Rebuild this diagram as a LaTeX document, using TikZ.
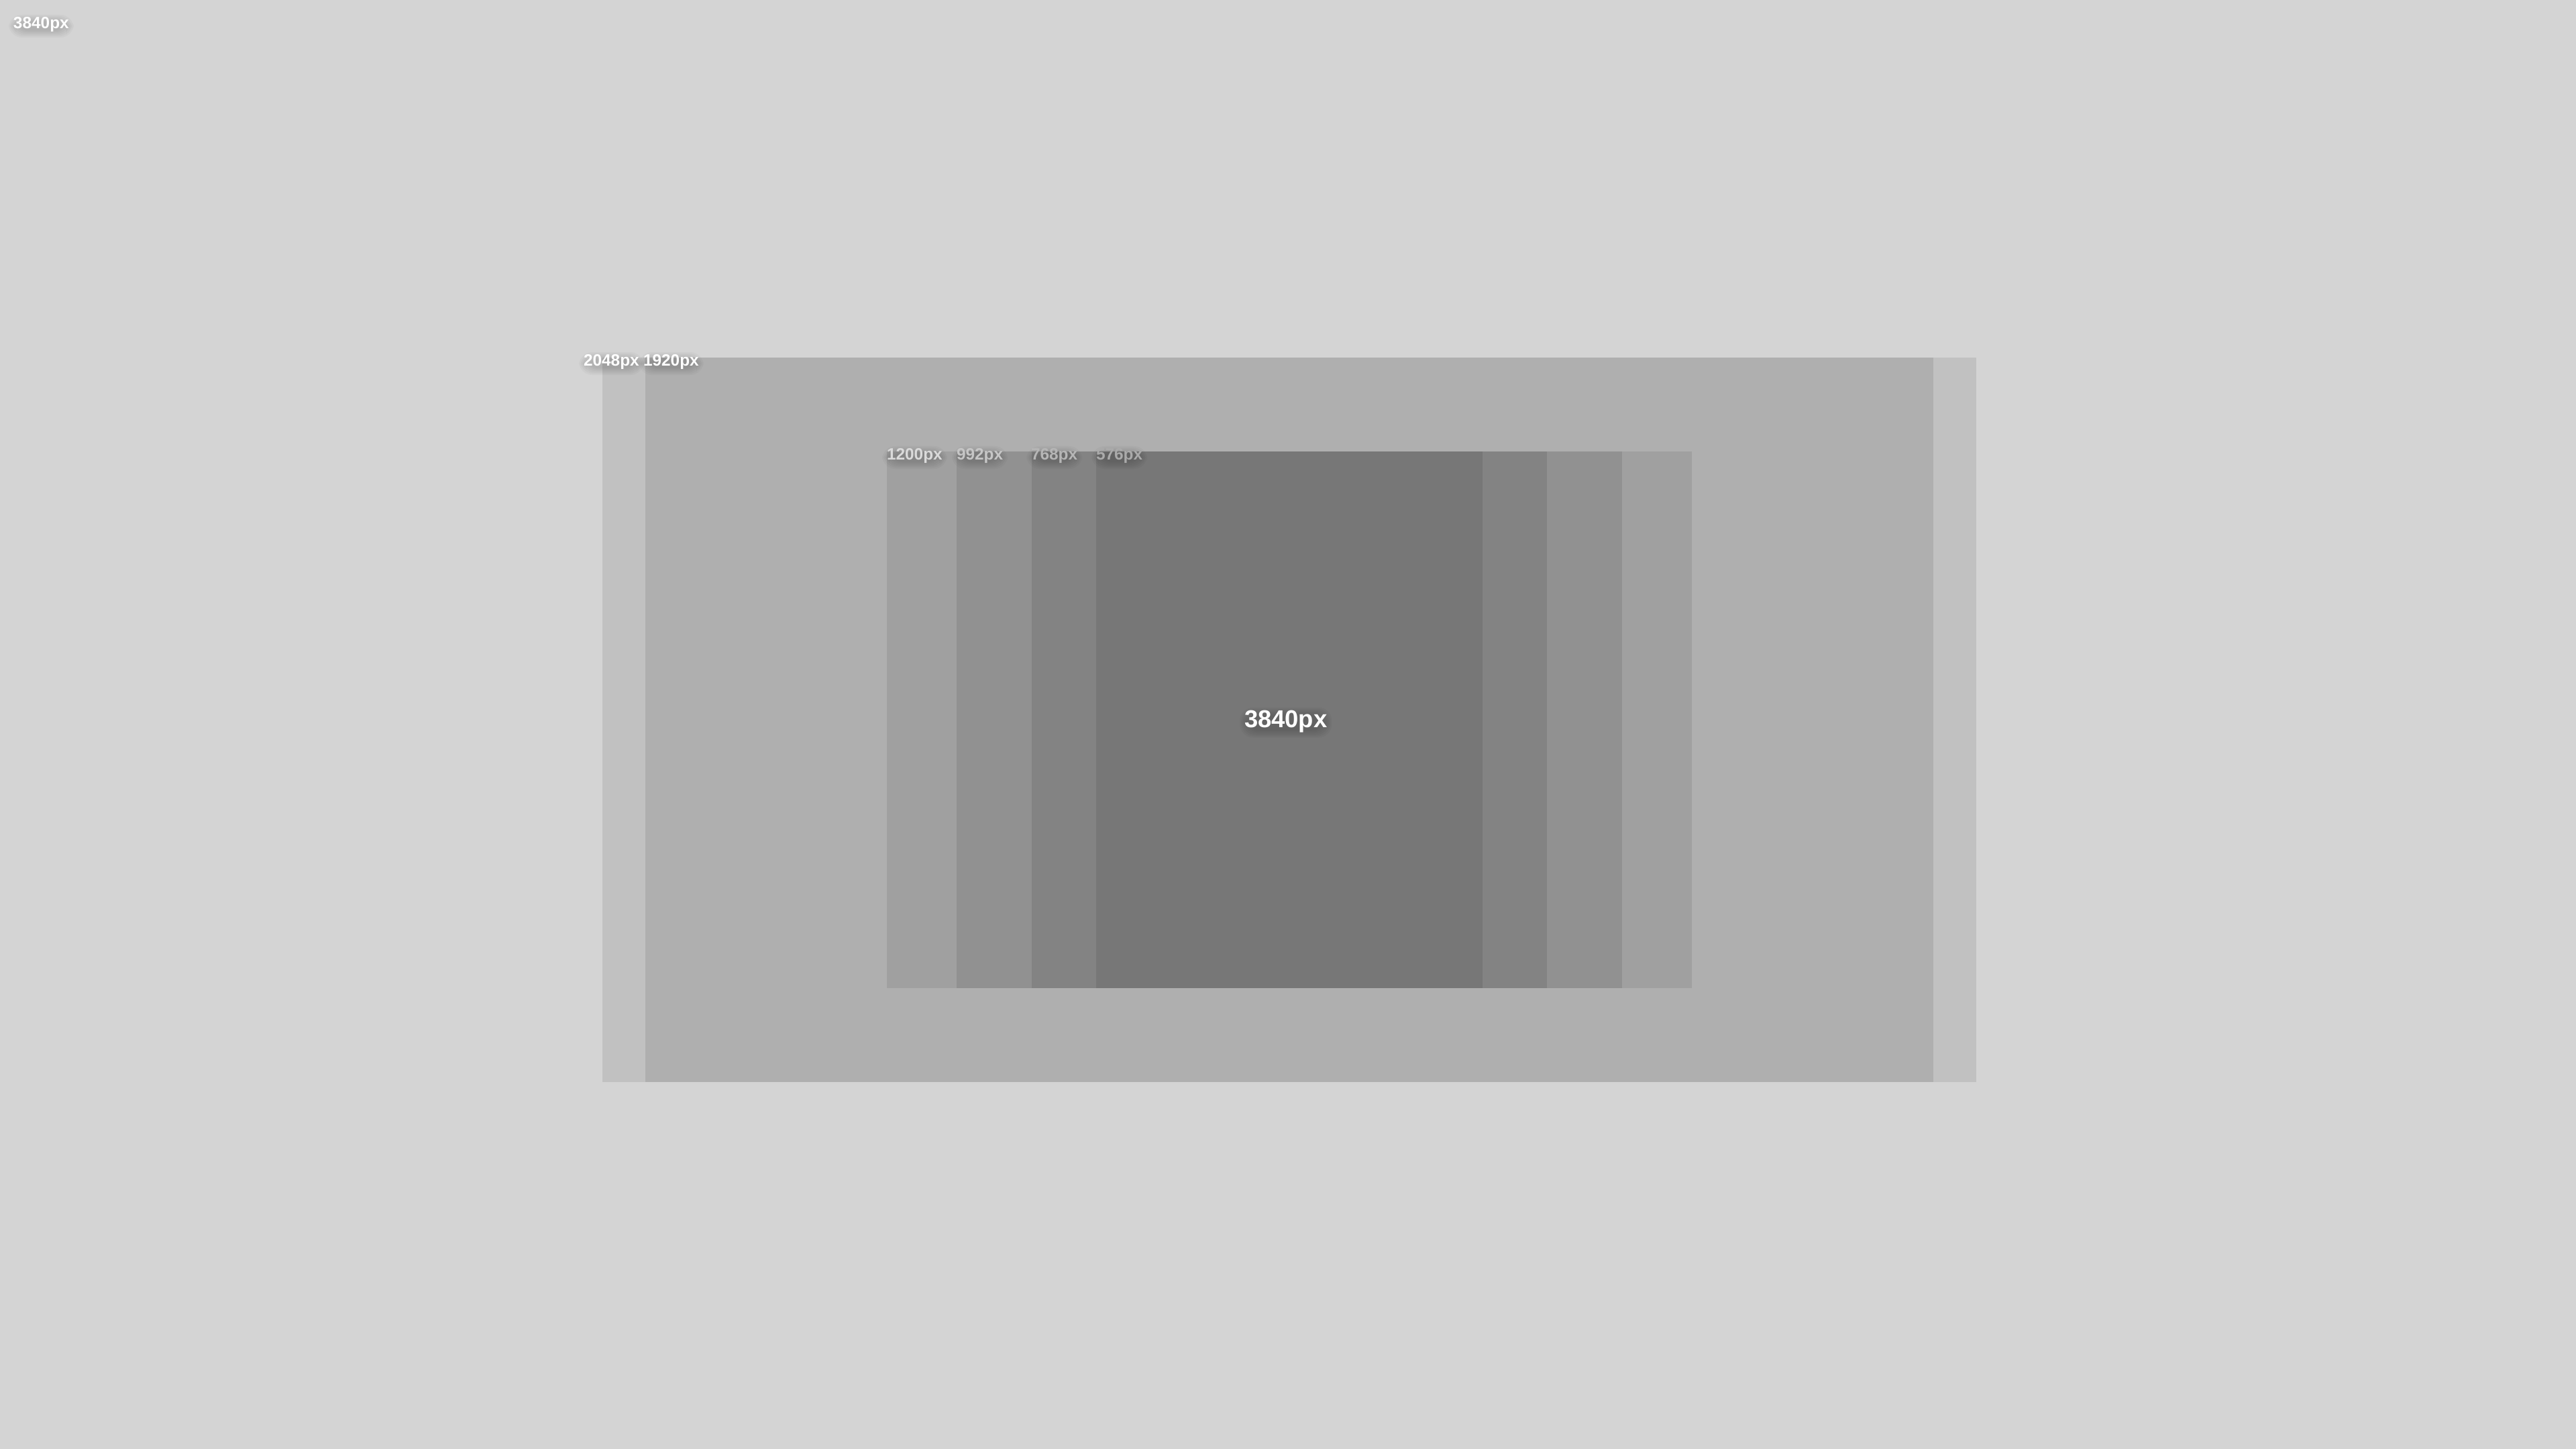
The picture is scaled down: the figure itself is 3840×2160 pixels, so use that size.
\documentclass[tikz,border=0pt]{standalone}
\usepackage{fontspec}
\setmainfont{Liberation Sans}
\usetikzlibrary{calc}
\pgfdeclarelayer{back}
\pgfsetlayers{back,main}
\definecolor{bgc}{HTML}{D4D4D4}
\definecolor{cA}{HTML}{C1C1C1}
\definecolor{cB}{HTML}{AFAFAF}
\definecolor{cC}{HTML}{A0A0A0}
\definecolor{cD}{HTML}{919191}
\definecolor{cE}{HTML}{838383}
\definecolor{cF}{HTML}{777777}
\definecolor{tC}{HTML}{DADADA}
\definecolor{tD}{HTML}{C6C6C6}
\definecolor{tE}{HTML}{B6B6B6}
\definecolor{tF}{HTML}{AAAAAA}
\newcommand\smallfont{\fontsize{6.1}{6.5}\selectfont\bfseries}
\newcommand\bigfont{\fontsize{9.1}{9.5}\selectfont\bfseries}
\newcommand\shlabel[6]{%
  \node[lbl, font=#5] (#1s) at (#2,#3) {\phantom{#6}};
  \foreach \i in {-3,-1,1,3,5,7}{%
    \fill[black, opacity=0.026, rounded corners=5]
      ($(#1s.south west)+(-\i,\i+1)$) rectangle ($(#1s.north east)+(\i,-\i+3)$);
  }%
  \node[lbl, text=#4, font=#5] (#1) at (#2,#3) {#6};
}
\begin{document}
\begin{tikzpicture}[x=0.25pt,y=-0.25pt,
  lbl/.style={anchor=base west, inner sep=0pt, outer sep=0pt},
  band/.style={draw=none}]
\begin{pgfonlayer}{back}
\fill[bgc] (0,0) rectangle (3840,2160);
% boxes
\path[band, fill=cA] (898,533) rectangle (2946,1613) coordinate (b2048);
\path[band, fill=cB] (962,533) rectangle (2882,1613) coordinate (b1920);
\path[band, fill=cC] (1322,673) rectangle (2522,1473) coordinate (b1200);
\path[band, fill=cD] (1426,673) rectangle (2418,1473) coordinate (b992);
\path[band, fill=cE] (1538,673) rectangle (2306,1473) coordinate (b768);
\path[band, fill=cF] (1634,673) rectangle (2210,1473) coordinate (b576);
\end{pgfonlayer}
\useasboundingbox (0,0) rectangle (3840,2160);
% labels
\shlabel{l3840a}{20}{43}{white}{\smallfont}{3840px}
\shlabel{l2048}{870}{546}{white}{\smallfont}{2048px}
\shlabel{l1920}{959}{546}{white}{\smallfont}{1920px}
\shlabel{l1200}{1322}{686}{tC}{\smallfont}{1200px}
\shlabel{l992}{1426}{686}{tD}{\smallfont}{992px}
\shlabel{l768}{1537}{686}{tE}{\smallfont}{768px}
\shlabel{l576}{1634}{686}{tF}{\smallfont}{576px}
\shlabel{l3840b}{1855}{1084}{white}{\bigfont}{3840px}
\end{tikzpicture}
\end{document}
